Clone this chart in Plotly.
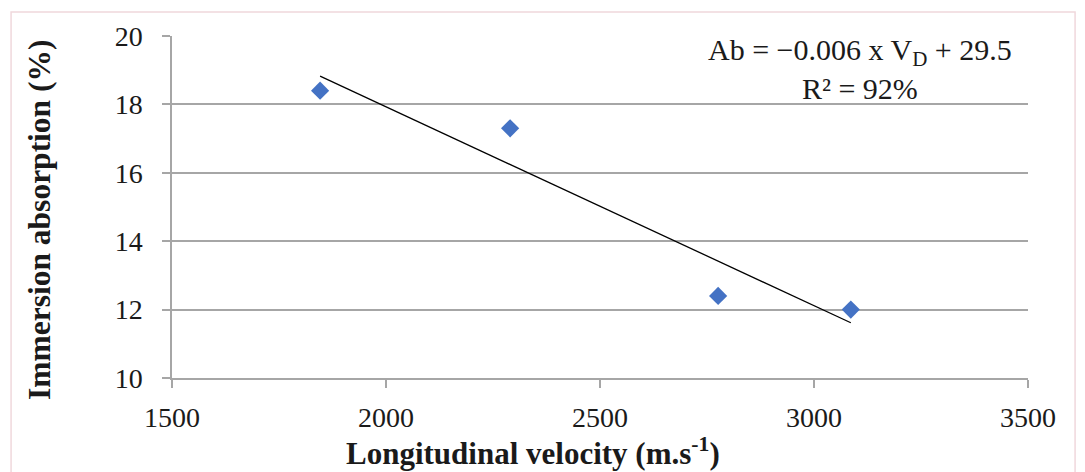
import numpy as np
import plotly.graph_objects as go

velocity = [1846, 2290, 2776, 3086]
absorption = [18.4, 17.3, 12.4, 12.0]

slope, intercept = np.polyfit(velocity, absorption, 1)
trend_x = [min(velocity), max(velocity)]
trend_y = [slope * v + intercept for v in trend_x]

FONT = "Liberation Serif"
TXT = "#1a1a1a"
GRID = "#a6a6a6"

fig = go.Figure()
fig.add_trace(go.Scatter(x=trend_x, y=trend_y, mode="lines",
                         line=dict(color="black", width=1.3), hoverinfo="skip"))
fig.add_trace(go.Scatter(x=velocity, y=absorption, mode="markers",
                         marker=dict(symbol="diamond", size=14, color="#4472C4")))

fig.update_layout(
    width=1085, height=472,
    margin=dict(l=172, r=57, t=36, b=94),
    paper_bgcolor="white", plot_bgcolor="white",
    showlegend=False,
    font=dict(family=FONT, color=TXT, size=28),
    xaxis=dict(range=[1500, 3500], dtick=500, showgrid=False,
               showline=True, linecolor=GRID, linewidth=1.5,
               ticks="outside", ticklen=8, tickcolor=GRID, tickwidth=1.5,
               ticklabelstandoff=6,
               tickfont=dict(family=FONT, size=28, color=TXT),
               zeroline=False),
    yaxis=dict(range=[10, 20], dtick=2, showgrid=True, gridcolor=GRID, gridwidth=1.5,
               showline=True, linecolor=GRID, linewidth=1.5,
               ticks="outside", ticklen=8, tickcolor=GRID, tickwidth=1.5,
               ticklabelstandoff=14,
               tickfont=dict(family=FONT, size=28, color=TXT),
               zeroline=False),
    annotations=[
        dict(text="Ab = \u22120.006 x V<sub>D</sub> + 29.5<br>R\u00b2 = 92%",
             xref="paper", yref="paper", x=0.804, y=1.015, xanchor="center", yanchor="top",
             showarrow=False, align="center",
             font=dict(family=FONT, size=30, color=TXT)),
        dict(text="<b>Longitudinal velocity (m.s<sup>-1</sup>)</b>",
             xref="paper", yref="paper", x=0.4217, y=-0.216,
             xanchor="center", yanchor="middle", showarrow=False,
             font=dict(family=FONT, size=31, color=TXT)),
        dict(text="<b>Immersion absorption (%)</b>", textangle=-90,
             xref="paper", yref="paper", x=-0.1542, y=0.462,
             xanchor="center", yanchor="middle", showarrow=False,
             font=dict(family=FONT, size=31.5, color=TXT)),
    ],
    shapes=[
        dict(type="rect", xref="paper", yref="paper",
             x0=-0.188, x1=1.055, y0=-0.35, y1=1.07,
             line=dict(color="#f0d8dc", width=1.5)),
    ],
)

fig.write_html("out.html", config={"displayModeBar": False},
               post_script="document.body.style.margin='0';")
